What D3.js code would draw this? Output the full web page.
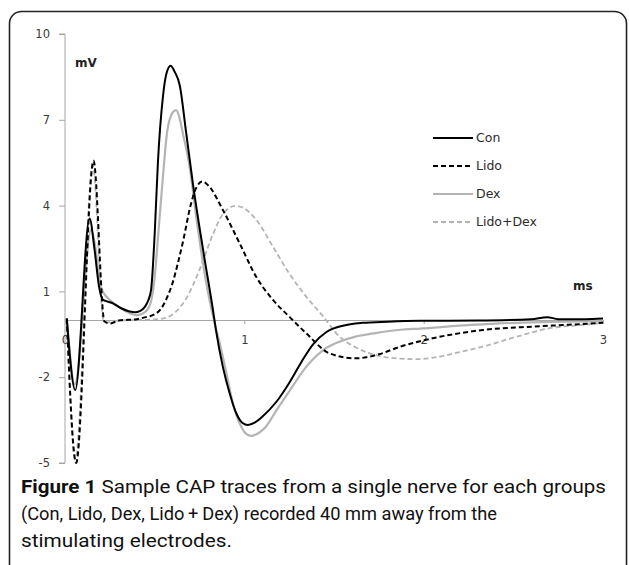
<!DOCTYPE html>
<html>
<head>
<meta charset="utf-8">
<script src="https://cdn.jsdelivr.net/npm/d3@7"></script>
<style>
    body { margin: 0; background: #fff; }
    svg { display: block; }
</style>
</head>
<body>
<div id="chart"></div>
<script>
// CAP traces, time in ms, amplitude in mV
var con = [
    [0.01, 0.05], [0.057, -2.45], [0.137, 3.55], [0.165, 2.45], [0.19, 1.16], [0.21, 0.72],
    [0.235, 0.65], [0.267, 0.58], [0.313, 0.41], [0.36, 0.3], [0.388, 0.27], [0.42, 0.32],
    [0.444, 0.45], [0.465, 0.7], [0.48, 1.05], [0.5, 3.0], [0.518, 5.5], [0.546, 7.8],
    [0.565, 8.6], [0.589, 8.89], [0.61, 8.7], [0.64, 8.2], [0.676, 6.53], [0.713, 4.78],
    [0.77, 2.45], [0.825, 0.35], [0.843, -0.4], [0.88, -1.63], [0.918, -2.56], [0.955, -3.26],
    [0.99, -3.6], [1.02, -3.67], [1.06, -3.58], [1.10, -3.38], [1.18, -2.85], [1.25, -2.2],
    [1.32, -1.45], [1.383, -0.85], [1.458, -0.42], [1.55, -0.2], [1.66, -0.1], [1.8, -0.06],
    [1.98, -0.03], [2.3, -0.02], [2.6, 0.03], [2.69, 0.1], [2.75, 0.03], [2.9, 0.03], [3.0, 0.05]
];
var lido = [
    [0.01, 0.05], [0.062, -5.0], [0.159, 5.57], [0.22, -0.05], [0.25, -0.12], [0.3, -0.02],
    [0.4, 0.03], [0.45, 0.1], [0.5, 0.2], [0.53, 0.35], [0.57, 0.8], [0.6, 1.3], [0.63, 2.0],
    [0.66, 2.8], [0.7, 4.0], [0.73, 4.6], [0.766, 4.84], [0.8, 4.7], [0.88, 3.85], [0.974, 2.68],
    [1.067, 1.5], [1.16, 0.7], [1.25, 0.12], [1.346, -0.47], [1.476, -1.17], [1.62, -1.34],
    [1.75, -1.2], [1.87, -0.93], [2.05, -0.64], [2.33, -0.35], [2.61, -0.23], [2.8, -0.17], [3.0, -0.1]
];
var dex = [
    [0.01, 0.05], [0.055, -2.25], [0.146, 3.15], [0.174, 2.33], [0.19, 1.4], [0.215, 0.95],
    [0.24, 0.76], [0.28, 0.55], [0.313, 0.41], [0.36, 0.24], [0.397, 0.17], [0.43, 0.22],
    [0.462, 0.38], [0.485, 0.8], [0.5, 1.5], [0.52, 3.0], [0.546, 5.0], [0.57, 6.6], [0.6, 7.25],
    [0.62, 7.34], [0.637, 7.1], [0.657, 6.53], [0.695, 5.36], [0.732, 3.6], [0.788, 1.28],
    [0.834, -0.1], [0.862, -0.8], [0.9, -1.86], [0.936, -2.91], [0.983, -3.73], [1.01, -3.98],
    [1.04, -4.05], [1.08, -3.95], [1.12, -3.73], [1.18, -3.15], [1.25, -2.5], [1.346, -1.63],
    [1.44, -1.05], [1.53, -0.76], [1.62, -0.58], [1.72, -0.47], [1.87, -0.34], [1.98, -0.3],
    [2.2, -0.2], [2.42, -0.12], [2.7, -0.07], [3.0, -0.04]
];
var lidoDex = [
    [0.01, 0.05], [0.058, -4.85], [0.155, 5.4], [0.215, 0.0], [0.24, -0.08], [0.3, -0.02],
    [0.4, 0.0], [0.5, 0.02], [0.565, 0.08], [0.62, 0.3], [0.676, 0.75], [0.75, 1.75],
    [0.825, 3.0], [0.88, 3.7], [0.95, 3.99], [1.0, 3.9], [1.067, 3.5], [1.16, 2.56], [1.25, 1.63],
    [1.346, 0.81], [1.44, 0.12], [1.53, -0.58], [1.62, -0.95], [1.70, -1.17], [1.77, -1.28],
    [1.87, -1.35], [1.96, -1.37], [2.09, -1.28], [2.2, -1.12], [2.33, -0.93], [2.52, -0.58],
    [2.70, -0.29], [2.89, -0.17], [3.0, -0.1]
];

var seriesNames = [ 'Con', 'Lido', 'Dex', 'Lido+Dex' ];
var yTicks = [ -5, -2, 1, 4, 7, 10 ];
var xTicks = [ 0, 1, 2, 3 ];
var captionLines = [
    'Sample CAP traces from a single nerve for each groups',
    '(Con, Lido, Dex, Lido\u2009+\u2009Dex) recorded 40 mm away from the',
    'stimulating electrodes.'
];

var width = 629,
    height = 565;

var svg = d3.select( '#chart' )
    .append( 'svg' )
    .attr( 'width', width )
    .attr( 'height', height );

// figure frame
svg.append( 'rect' )
    .attr( 'x', 9.5 )
    .attr( 'y', 11.5 )
    .attr( 'width', 617 )
    .attr( 'height', 575 )
    .attr( 'rx', 12 )
    .attr( 'fill', 'none' )
    .attr( 'stroke', '#222' )
    .attr( 'stroke-width', 1.6 );

var x = d3.scaleLinear().domain( [ 0, 3 ] ).range( [ 65, 603 ] ),
    y = d3.scaleLinear().domain( [ -5, 10 ] ).range( [ 463, 34 ] );

var axisColor = '#a6a6a6',
    labelColor = '#3a3a3a',
    plain = d => String( d );

// y axis
var yAxis = svg.append( 'g' )
    .attr( 'transform', 'translate(' + x( 0 ) + ',0)' )
    .call( d3.axisLeft( y ).tickValues( yTicks ).tickFormat( plain ).tickSize( 6 ).tickPadding( 9 ) );
yAxis.select( '.domain' ).attr( 'stroke', axisColor ).attr( 'd', 'M-6,' + y( 10 ) + 'H0V' + y( -5 ) + 'H-6' );
yAxis.selectAll( '.tick line' ).attr( 'stroke', axisColor );
yAxis.selectAll( '.tick text' )
    .attr( 'fill', labelColor )
    .style( 'font', '11.5px "DejaVu Sans", sans-serif' );

// x axis along zero
var xAxis = svg.append( 'g' )
    .attr( 'transform', 'translate(0,' + y( 0 ) + ')' )
    .call( d3.axisBottom( x ).tickValues( xTicks ).tickFormat( plain ).tickSize( 4 ).tickPadding( 12 ).tickSizeOuter( 0 ) );
xAxis.select( '.domain' ).attr( 'stroke', axisColor );
xAxis.selectAll( '.tick line' ).attr( 'stroke', axisColor );
xAxis.selectAll( '.tick text' )
    .attr( 'fill', labelColor )
    .style( 'font', '11.5px "DejaVu Sans", sans-serif' );

// unit labels
svg.append( 'text' )
    .attr( 'x', 75 )
    .attr( 'y', 67 )
    .attr( 'fill', '#222' )
    .style( 'font', 'bold 12px "DejaVu Sans", sans-serif' )
    .text( 'mV' );
svg.append( 'text' )
    .attr( 'x', 573 )
    .attr( 'y', 290 )
    .attr( 'fill', '#222' )
    .style( 'font', 'bold 12px "DejaVu Sans", sans-serif' )
    .text( 'ms' );

// traces
var styles = [
    { color: '#000', dash: null, w: 2 },
    { color: '#000', dash: '5,3', w: 2 },
    { color: '#b4b4b4', dash: null, w: 2.2 },
    { color: '#b4b4b4', dash: '5,3', w: 1.8 }
];
var traces = [ con, lido, dex, lidoDex ];

var line = d3.line()
    .x( d => x( d[ 0 ] ) )
    .y( d => y( d[ 1 ] ) )
    .curve( d3.curveMonotoneX );

// grey ones first, black on top
[ 3, 2, 1, 0 ].forEach( function( i ){
    svg.append( 'path' )
        .datum( traces[ i ] )
        .attr( 'd', line )
        .attr( 'fill', 'none' )
        .attr( 'stroke', styles[ i ].color )
        .attr( 'stroke-width', styles[ i ].w )
        .attr( 'stroke-dasharray', styles[ i ].dash )
        .attr( 'stroke-linejoin', 'round' );
} );

// legend
var legend = svg.append( 'g' )
    .attr( 'transform', 'translate(433,138)' );
seriesNames.forEach( function( name, i ){
    var row = legend.append( 'g' ).attr( 'transform', 'translate(0,' + ( i * 28 ) + ')' );
    row.append( 'line' )
        .attr( 'x1', 0 )
        .attr( 'x2', 40 )
        .attr( 'stroke', styles[ i ].color )
        .attr( 'stroke-width', styles[ i ].w )
        .attr( 'stroke-dasharray', styles[ i ].dash );
    row.append( 'text' )
        .attr( 'x', 43 )
        .attr( 'dy', '0.35em' )
        .attr( 'fill', '#2a2a2a' )
        .style( 'font', '12.5px "DejaVu Sans", sans-serif' )
        .text( name );
} );

// caption
var capWidths = [ 585, 476, 211 ];
captionLines.forEach( function( txt, i ){
    var t = svg.append( 'text' )
        .attr( 'x', 21 )
        .attr( 'y', 493 + i * 27 )
        .attr( 'fill', '#111' )
        .attr( 'textLength', capWidths[ i ] )
        .attr( 'lengthAdjust', 'spacingAndGlyphs' )
        .style( 'font', '18px Roboto, sans-serif' );
    if ( i === 0 ) {
        t.append( 'tspan' ).style( 'font-weight', 'bold' ).text( 'Figure 1 ' );
    }
    t.append( 'tspan' ).text( txt );
} );
</script>
</body>
</html>
